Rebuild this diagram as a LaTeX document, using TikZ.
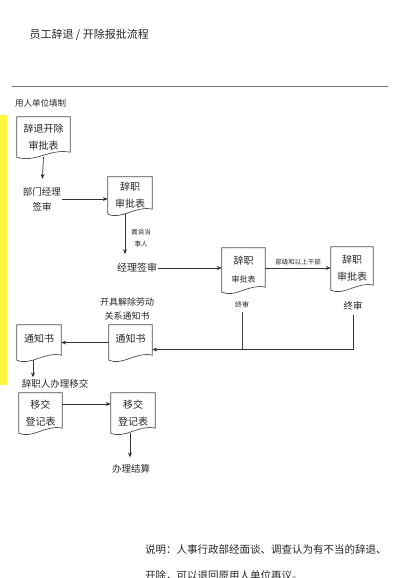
\documentclass[tikz,border=0pt]{standalone}
\usepackage{fontspec}
\newfontfamily\cjk{Noto Sans CJK SC}
\usetikzlibrary{arrows.meta,positioning,calc}

\begin{document}
\begin{tikzpicture}[
        x=1pt, y=-1pt,
        font=\cjk\fontsize{9.5}{15}\selectfont,
        >={Stealth[length=5pt,width=4pt]},
        % 单据 (波浪底边) 与文字的统一风格
        form_node/.style={minimum width=44pt, minimum height=38pt, inner sep=1pt, align=center, text=black!85, font=\cjk\fontsize{10}{17}\selectfont},
        wave_line/.style={draw=black!70, line width=0.7pt},
        step_text/.style={align=center, inner sep=1pt, text=black!85},
        small_text/.style={align=center, inner sep=1pt, text=black!85, font=\cjk\fontsize{6.5}{12}\selectfont},
        arrow/.style={->, draw=black!80, line width=0.7pt},
        line/.style={draw=black!75, line width=0.7pt}
    ]
    \useasboundingbox (0,0) rectangle (400,578);

    % ==========================================
    % 1. 标题与页眉
    % ==========================================
    \node[anchor=west, text=black!85, font=\cjk\fontsize{11}{13}\selectfont] (title) at (26,35) {员工辞退 / 开除报批流程};
    \coordinate (rule_l) at (12,86);
    \coordinate (rule_r) at (388,86);
    \draw[black!55, line width=0.6pt] (rule_l) -- (rule_r);
    \node[anchor=west, step_text, font=\cjk\fontsize{8.5}{10}\selectfont] (filler) at (14,103) {用人单位填制};
    \fill[yellow!75] (0,115) rectangle (7,385);

    % ==========================================
    % 2. 单据与步骤
    % ==========================================
    \node[form_node, minimum width=53pt, minimum height=40pt] (form1) at (43.5,137) {辞退开除\\审批表};
    \node[step_text] (mgr1) at (42,199) {部门经理\\签审};
    \node[form_node, minimum height=37pt] (form2) at (130,195.5) {辞职\\审批表};
    \node[step_text, font=\cjk\fontsize{10}{12}\selectfont] (mgr2) at (137,268) {经理签审};
    \node[form_node, minimum width=43pt, minimum height=44pt] (form3) at (243.5,270) {辞职\\[1pt]{\fontsize{8}{10}\selectfont 审批表}};
    \node[form_node, minimum width=42pt, minimum height=43pt] (form4) at (352,268.5) {辞职\\审批表};
    \node[small_text, font=\cjk\fontsize{7}{9}\selectfont] (fin3) at (242,305) {终审};
    \node[step_text, font=\cjk\fontsize{9.5}{11}\selectfont] (fin4) at (353,306) {终审};

    \node[step_text, font=\cjk\fontsize{9}{14}\selectfont] (issue) at (127,309) {开具解除劳动\\关系通知书};
    \node[form_node, minimum width=43pt, minimum height=35pt, text depth=9pt] (form5) at (130.5,342.5) {通知书};
    \node[form_node, minimum width=44pt, minimum height=35pt, text depth=9pt] (form6) at (39,342.5) {通知书};
    \node[step_text] (handover) at (55,384) {辞职人办理移交};
    \node[form_node, minimum width=43pt, minimum height=40pt] (form7) at (40.5,413) {移交\\登记表};
    \node[form_node, minimum width=44pt, minimum height=40pt] (form8) at (133,413) {移交\\登记表};
    \node[step_text] (settle) at (131,469) {办理结算};

    % 单据外框: 左右竖边 + 波浪底边
    \foreach \f in {form1,form2,form3,form4,form5,form6,form7,form8}{
        \draw[wave_line] (\f.south west) -- (\f.north west) -- (\f.north east) -- ([yshift=5pt]\f.south east)
            .. controls ($(\f.south)+(6pt,9pt)$) and ($(\f.south)+(-8pt,-6pt)$) .. (\f.south west);
    }

    % ==========================================
    % 3. 连线
    % ==========================================
    \draw[arrow, shorten >=7pt] (form1.south) -- (mgr1.north);
    \draw[arrow] (mgr1.east) -- (mgr1.east -| form2.west);
    \draw[arrow, shorten >=8pt] ([xshift=-5pt]form2.south) -- node[small_text, right, xshift=5pt] {面谈当\\事人} ([xshift=-5pt]form2.south |- mgr2.north);
    \draw[arrow] (mgr2.east) -- (mgr2.east -| form3.west);
    \draw[arrow] ([yshift=2pt]form3.east) -- node[small_text, above, yshift=2pt] {部级和以上干部} ([yshift=2pt]form3.east -| form4.west);

    \coordinate (bus) at ([yshift=-7pt]form5.east);
    \draw[line] ([yshift=-3pt]fin3.south) -- (fin3.south |- bus);
    \draw[arrow] ([yshift=-3pt]fin4.south) |- (bus);

    \draw[arrow] (form5.west) -- (form6.east);
    \draw[arrow, shorten >=1pt] ([xshift=-6pt]form6.south) -- ([xshift=-6pt]form6.south |- handover.north);
    \draw[arrow] ([yshift=9pt]form7.east) -- ([yshift=9pt]form7.east -| form8.west);
    \draw[arrow, shorten >=6pt] ([xshift=-3pt]form8.south) -- ([xshift=-3pt]form8.south |- settle.north);

    % ==========================================
    % 4. 说明
    % ==========================================
    \node[anchor=west, step_text, font=\cjk\fontsize{10.5}{12}\selectfont] (note1) at (144,550) {说明：人事行政部经面谈、调查认为有不当的辞退、};
    \node[anchor=west, step_text, font=\cjk\fontsize{10.5}{12}\selectfont] (note2) at (144,576) {开除，可以退回原用人单位再议。};
\end{tikzpicture}
\end{document}
